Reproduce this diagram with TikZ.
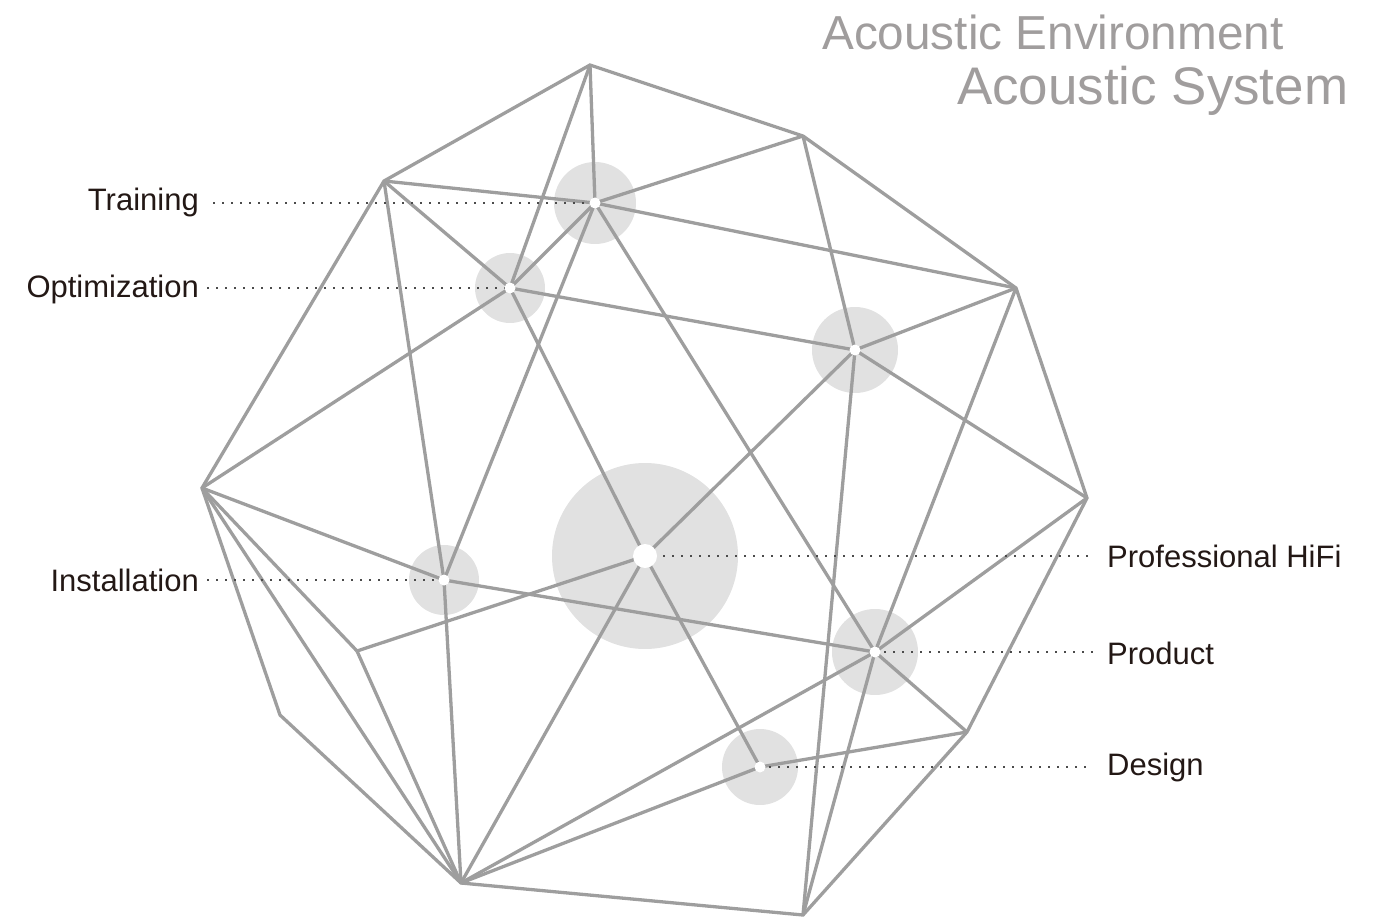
\documentclass[tikz,border=0pt]{standalone}
\usepackage{fontspec}
\setmainfont{Liberation Sans}
\definecolor{edge}{RGB}{158,158,158}
\definecolor{hub}{RGB}{225,225,225}
\definecolor{ink}{RGB}{35,24,21}
\definecolor{titlegray}{RGB}{160,157,157}
\definecolor{dotc}{RGB}{75,75,75}
\begin{document}
\begin{tikzpicture}[x=1pt,y=-1pt,
  edgeline/.style={draw=edge,line width=3.3pt},
  outerline/.style={draw=edge,line width=3.3pt,line join=miter},
  hubdisc/.style={fill=hub},
  dotline/.style={draw=dotc,line width=2.3pt,dash pattern=on 2.3pt off 6.7pt},
  whitedot/.style={fill=white},
  lbl/.style={font=\fontsize{31}{36}\selectfont,text=ink,inner sep=0pt},
  ttl/.style={text=titlegray,inner sep=0pt}]
\useasboundingbox (0,0) rectangle (1387,920);
% outer vertices
\coordinate (T) at (590,65);
\coordinate (TR) at (803,136);
\coordinate (R1) at (1016,288);
\coordinate (R2) at (1087,498);
\coordinate (BR) at (967,732);
\coordinate (B2) at (803,915);
\coordinate (B1) at (461,883);
\coordinate (BL) at (280,715);
\coordinate (L) at (202,488);
\coordinate (TL) at (384,181);
\coordinate (M) at (357,651);
% hubs
\coordinate (Tr) at (595,203);
\coordinate (Op) at (510,288);
\coordinate (Rh) at (855,350);
\coordinate (C) at (645,556);
\coordinate (In) at (444,580);
\coordinate (Pr) at (875,652);
\coordinate (De) at (760,767);
% dotted ends
\coordinate (TrE) at (213,203);
\coordinate (OpE) at (207,288);
\coordinate (InE) at (207,580);
\coordinate (CE) at (1092,556);
\coordinate (PrE) at (1093,652);
\coordinate (DeE) at (1092,767);
% hub discs
\fill[hubdisc] (Tr) circle (41pt);
\fill[hubdisc] (Op) circle (35pt);
\fill[hubdisc] (Rh) circle (43pt);
\fill[hubdisc] (C) circle (93pt);
\fill[hubdisc] (In) circle (35pt);
\fill[hubdisc] (Pr) circle (43pt);
\fill[hubdisc] (De) circle (38pt);
% outer polygon
\draw[outerline] (T) -- (TR) -- (R1) -- (R2) -- (BR) -- (B2) -- (B1) -- (BL) -- (L) -- (TL) -- cycle;
% inner edges
\draw[edgeline] (T) -- (Tr);
\draw[edgeline] (T) -- (Op);
\draw[edgeline] (TL) -- (Tr);
\draw[edgeline] (TL) -- (Op);
\draw[edgeline] (TL) -- (In);
\draw[edgeline] (TR) -- (Tr);
\draw[edgeline] (TR) -- (Rh);
\draw[edgeline] (R1) -- (Tr);
\draw[edgeline] (R1) -- (Rh);
\draw[edgeline] (R1) -- (Pr);
\draw[edgeline] (R2) -- (Rh);
\draw[edgeline] (R2) -- (Pr);
\draw[edgeline] (BR) -- (Pr);
\draw[edgeline] (BR) -- (De);
\draw[edgeline] (B2) -- (Rh);
\draw[edgeline] (B2) -- (Pr);
\draw[edgeline] (B1) -- (In);
\draw[edgeline] (B1) -- (C);
\draw[edgeline] (B1) -- (Pr);
\draw[edgeline] (B1) -- (De);
\draw[edgeline] (B1) -- (M);
\draw[edgeline] (B1) -- (L);
\draw[edgeline] (L) -- (Op);
\draw[edgeline] (L) -- (In);
\draw[edgeline] (L) -- (M);
\draw[edgeline] (M) -- (C);
\draw[edgeline] (Tr) -- (Op);
\draw[edgeline] (Tr) -- (In);
\draw[edgeline] (Tr) -- (Pr);
\draw[edgeline] (Op) -- (Rh);
\draw[edgeline] (Op) -- (C);
\draw[edgeline] (C) -- (Rh);
\draw[edgeline] (C) -- (De);
\draw[edgeline] (In) -- (Pr);
% dotted leaders
\draw[dotline] (TrE) -- (Tr);
\draw[dotline] (OpE) -- (Op);
\draw[dotline] (InE) -- (In);
\draw[dotline] (C) -- (CE);
\draw[dotline] (Pr) -- (PrE);
\draw[dotline] (De) -- (DeE);
% white dots
\fill[whitedot] (Tr) circle (5.5pt);
\fill[whitedot] (Op) circle (5.5pt);
\fill[whitedot] (Rh) circle (5.5pt);
\fill[whitedot] (C) circle (12pt);
\fill[whitedot] (In) circle (5.5pt);
\fill[whitedot] (Pr) circle (5.5pt);
\fill[whitedot] (De) circle (5.5pt);
% labels
\node[lbl,anchor=base east] (lTr) at (199,211) {Training};
\node[lbl,anchor=base east] (lOp) at (199,297) {Optimization};
\node[lbl,anchor=base east] (lIn) at (199,591) {Installation};
\node[lbl,anchor=base west] (lC) at (1107,567) {Professional HiFi};
\node[lbl,anchor=base west] (lPr) at (1107,664) {Product};
\node[lbl,anchor=base west] (lDe) at (1107,775) {Design};
% title
\node[ttl,font=\fontsize{47.7}{52}\selectfont,anchor=base west] (t1) at (822,50) {Acoustic Environment};
\node[ttl,font=\fontsize{52.9}{58}\selectfont,anchor=base west] (t2) at (957,105) {Acoustic System};
\end{tikzpicture}
\end{document}
